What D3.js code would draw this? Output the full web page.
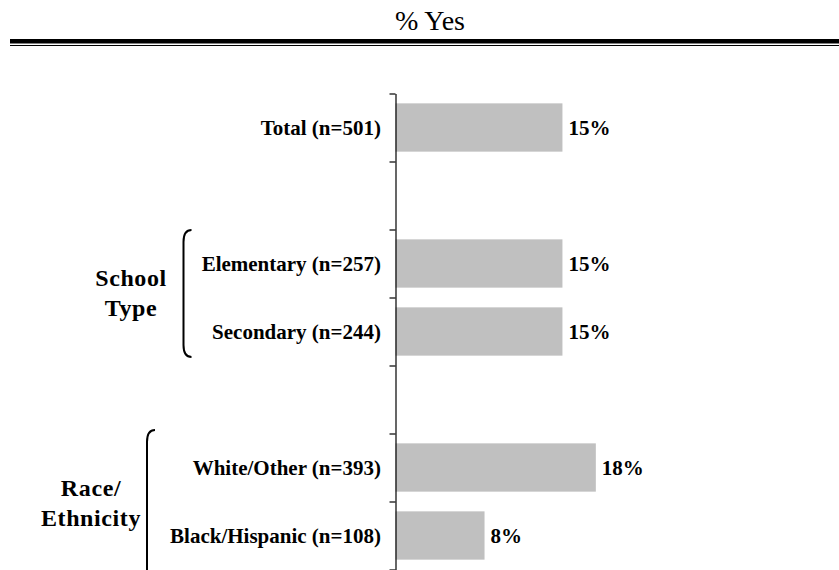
<!DOCTYPE html>
<html>
<head>
<meta charset="utf-8">
<script src="https://cdn.jsdelivr.net/npm/d3@7"></script>
<style>
  html, body { margin: 0; padding: 0; background: #fff; }
  svg { display: block; }
</style>
</head>
<body>
<svg id="chart" width="839" height="570"></svg>
<script>
// ---- Data ----
const title = "% Yes";
const slots = ["total", "gap1", "elementary", "secondary", "gap2", "white", "blackhisp"];
const categoryLabels = ["Total (n=501)", "", "Elementary (n=257)", "Secondary (n=244)", "", "White/Other (n=393)", "Black/Hispanic (n=108)"];
const values = [15, null, 15, 15, null, 18, 8];
const valueLabels = ["15%", "", "15%", "15%", "", "18%", "8%"];
const groupNames = [["School", "Type"], ["Race/", "Ethnicity"]];

// ---- Layout ----
(function () {
  const FONT = "'Liberation Serif', 'Times New Roman', Tinos, 'DejaVu Serif', serif";
  const svg = d3.select("#chart").attr("font-family", FONT);
  const W = 839;
  const axisX = 395.5;
  const yTop = 93.5, yBottom = 569.5;

  const y = d3.scaleBand().domain(slots).range([yTop, yBottom]).paddingInner(0.29).paddingOuter(0.145);
  const x = d3.scaleLinear().domain([0, 20]).range([axisX, axisX + 222.6]);
  const yEdges = d3.scaleLinear().domain([0, slots.length]).range([yTop, yBottom]);

  // Title
  svg.append("text")
    .attr("x", 430).attr("y", 30)
    .attr("text-anchor", "middle")
    .attr("font-family", FONT)
    .attr("font-size", 28)
    .text(title);

  // Double rule under title
  svg.append("line").attr("x1", 10).attr("x2", W).attr("y1", 41.2).attr("y2", 41.2)
    .attr("stroke", "#000").attr("stroke-width", 4.5);
  svg.append("line").attr("x1", 10).attr("x2", W).attr("y1", 45.5).attr("y2", 45.5)
    .attr("stroke", "#000").attr("stroke-width", 1);

  const data = slots.map((s, i) => ({ slot: s, label: categoryLabels[i], value: values[i], vlabel: valueLabels[i] }));
  const withVal = data.filter(d => d.value != null);

  // Bars
  svg.append("g").selectAll("rect").data(withVal).join("rect")
    .attr("x", x(0))
    .attr("y", d => y(d.slot))
    .attr("width", d => x(d.value) - x(0))
    .attr("height", y.bandwidth())
    .attr("fill", "#c0c0c0");

  // Axis with ticks at band boundaries
  const axis = d3.axisLeft(yEdges).tickValues(d3.range(slots.length + 1)).tickFormat("").tickSize(6).tickSizeOuter(0);
  const ag = svg.append("g").attr("transform", `translate(${axisX},0)`).call(axis);
  ag.selectAll("path, line").attr("stroke", "#000").attr("stroke-width", 1.2);

  // Category labels
  svg.append("g").selectAll("text").data(withVal).join("text")
    .attr("x", 381)
    .attr("y", d => y(d.slot) + y.bandwidth() / 2)
    .attr("dy", "0.35em")
    .attr("text-anchor", "end")
    .attr("font-family", FONT)
    .attr("font-size", 21)
    .attr("font-weight", "bold")
    .text(d => d.label);

  // Value labels
  svg.append("g").selectAll("text").data(withVal).join("text")
    .attr("x", d => x(d.value) + 6)
    .attr("y", d => y(d.slot) + y.bandwidth() / 2)
    .attr("dy", "0.35em")
    .attr("font-family", FONT)
    .attr("font-size", 21)
    .attr("font-weight", "bold")
    .text(d => d.vlabel);

  // Group brackets and labels
  const bracketX = [183.5, 147];
  const bracketTop = [230, 430];
  const bracketBottom = [357, 585];
  const groupLabelX = [131, 91];
  const groupLabelY = [[286, 316], [496, 526]];

  groupNames.forEach((names, gi) => {
    const bx = bracketX[gi], t = bracketTop[gi], b = bracketBottom[gi];
    svg.append("path")
      .attr("d", `M${bx + 8},${t} Q${bx},${t} ${bx},${t + 12} L${bx},${b - 12} Q${bx},${b} ${bx + 8},${b}`)
      .attr("fill", "none").attr("stroke", "#000").attr("stroke-width", 2);
    names.forEach((n, li) => {
      svg.append("text")
        .attr("x", groupLabelX[gi]).attr("y", groupLabelY[gi][li])
        .attr("text-anchor", "middle")
        .attr("font-family", FONT)
        .attr("font-size", 24)
        .attr("font-weight", "bold")
        .attr("letter-spacing", 0.6)
        .text(n);
    });
  });
})();
</script>
</body>
</html>
